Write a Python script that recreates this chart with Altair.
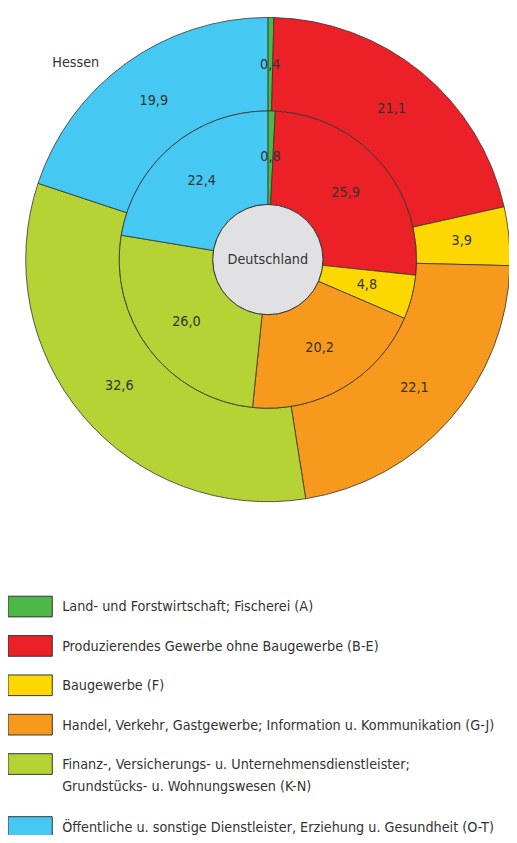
import altair as alt
import pandas as pd

categories = [
    "A", "B-E", "F", "G-J", "K-N", "O-T",
]
legend_labels = [
    "Land- und Forstwirtschaft; Fischerei (A)",
    "Produzierendes Gewerbe ohne Baugewerbe (B-E)",
    "Baugewerbe (F)",
    "Handel, Verkehr, Gastgewerbe; Information u. Kommunikation (G-J)",
    "Finanz-, Versicherungs- u. Unternehmensdienstleister;\nGrundstücks- u. Wohnungswesen (K-N)",
    "Öffentliche u. sonstige Dienstleister, Erziehung u. Gesundheit (O-T)",
]
hessen = [0.4, 21.1, 3.9, 22.1, 32.6, 19.9]
deutschland = [0.8, 25.9, 4.8, 20.2, 26.0, 22.4]
colors = ["#4db848", "#ec2027", "#fdd800", "#f6991d", "#b5d334", "#45c8f1"]

FONT = "Liberation Sans Narrow, DejaVu Sans Condensed, Roboto Condensed, Liberation Sans, sans-serif"
FS = 14.5
TXT = "#333333"
CX, CY = 264, 249
R_OUT, R_MID, R_IN = 246, 151, 56


def ring_df(values):
    return pd.DataFrame({
        "cat": categories,
        "value": values,
        "idx": list(range(len(categories))),
        "label": [f"{v:.1f}".replace(".", ",") for v in values],
    })


hdf = ring_df(hessen)
ddf = ring_df(deutschland)
ldf = pd.DataFrame({"cat": categories, "label": legend_labels, "idx": list(range(len(categories)))})

color_scale = alt.Scale(domain=categories, range=colors)


def ring(df, r1, r2):
    return alt.Chart(df).mark_arc(radius=r1, radius2=r2, stroke="#333333", strokeWidth=0.8).encode(
        theta=alt.Theta("value:Q", stack=True),
        order=alt.Order("idx:Q"),
        color=alt.Color("cat:N", scale=color_scale, legend=None),
        x=alt.value(CX), y=alt.value(CY),
    )


def ring_labels(df, r):
    return alt.Chart(df).mark_text(radius=r, font=FONT, fontSize=FS, color=TXT, baseline="middle").encode(
        theta=alt.Theta("value:Q", stack=True),
        order=alt.Order("idx:Q"),
        detail="cat:N",
        text="label:N",
        x=alt.value(CX), y=alt.value(CY),
    )


center = alt.Chart(pd.DataFrame({"t": ["Deutschland"]})).mark_circle(
    size=(2 * R_IN) ** 2, fill="#e1e1e3", stroke="#333333", strokeWidth=1, opacity=1
).encode(x=alt.value(CX), y=alt.value(CY))

center_text = alt.Chart(pd.DataFrame({"t": ["Deutschland"]})).mark_text(
    font=FONT, fontSize=FS, color=TXT, baseline="middle", align="center"
).encode(text="t:N", x=alt.value(CX), y=alt.value(CY))

hessen_text = alt.Chart(pd.DataFrame({"t": ["Hessen"]})).mark_text(
    font=FONT, fontSize=FS, color=TXT, baseline="middle", align="left"
).encode(text="t:N", x=alt.value(45), y=alt.value(49))

legend_base = alt.Chart(ldf).transform_calculate(
    ys="591 + datum.idx * 40 + (datum.idx > 4 ? 24 : 0)"
).transform_calculate(ye="datum.ys + 21", yt="datum.ys + 10.5")

legend_rects = legend_base.mark_rect(stroke="#333333", strokeWidth=1).encode(
    x=alt.value(0), x2=alt.value(45),
    y=alt.Y("ys:Q", scale=None), y2="ye:Q",
    color=alt.Color("cat:N", scale=color_scale, legend=None),
)

legend_text = legend_base.mark_text(
    font=FONT, fontSize=FS, color=TXT, align="left", baseline="alphabetic",
    dy=5, lineBreak="\n", lineHeight=22,
).encode(
    x=alt.value(55),
    y=alt.Y("yt:Q", scale=None),
    text="label:N",
)

chart = alt.layer(
    ring(hdf, R_OUT, R_MID),
    ring(ddf, R_MID, R_IN),
    center,
    ring_labels(hdf, 198),
    ring_labels(ddf, 104),
    center_text,
    hessen_text,
    legend_rects,
    legend_text,
).resolve_scale(theta="independent").properties(
    width=509, height=827, padding=0, autosize=alt.AutoSizeParams(type="none"),
    background="white",
).configure_view(stroke=None)

chart.save("out.html", embed_options={"renderer": "svg", "actions": False})
